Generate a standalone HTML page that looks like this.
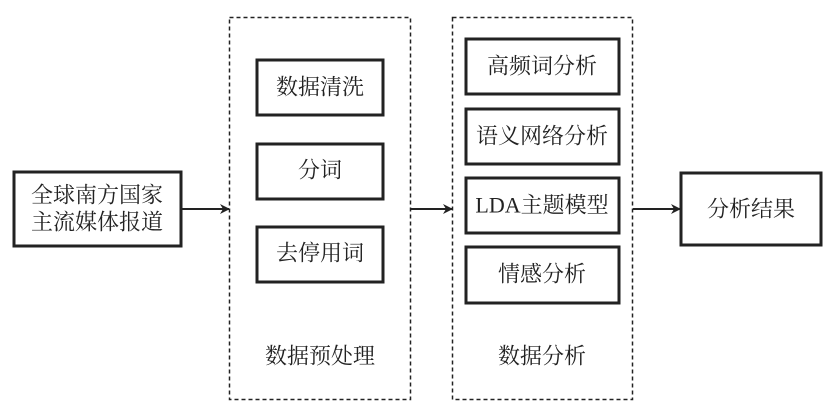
<!DOCTYPE html>
<html><head><meta charset="utf-8"><style>
html,body{margin:0;padding:0;background:#fff;}
svg{display:block;}
text{font-family:"Liberation Serif","Noto Serif CJK SC",serif;font-size:22px;fill:#222;text-anchor:middle;dominant-baseline:central;}
</style></head><body>
<svg width="825" height="405" viewBox="0 0 825 405">
<defs><marker id="a" markerWidth="10" markerHeight="10" refX="9" refY="5" orient="auto" markerUnits="userSpaceOnUse"><path d="M0,0 L10,5 L0,10 L3,5 Z" fill="#222"/></marker></defs>
<g fill="none" stroke="#222">
<rect x="14" y="172" width="167" height="74" stroke-width="3"/>
<rect x="229.5" y="17.5" width="181" height="382" stroke-width="1.5" stroke-dasharray="4,3"/>
<rect x="452.5" y="17.5" width="180" height="382" stroke-width="1.5" stroke-dasharray="4,3"/>
<rect x="257" y="60" width="126" height="55" stroke-width="3"/>
<rect x="257" y="144" width="126" height="55" stroke-width="3"/>
<rect x="257" y="227" width="126" height="55" stroke-width="3"/>
<rect x="466" y="39" width="153" height="55" stroke-width="3"/>
<rect x="466" y="109" width="153" height="55" stroke-width="3"/>
<rect x="466" y="178" width="153" height="55" stroke-width="3"/>
<rect x="466" y="247" width="153" height="56" stroke-width="3"/>
<rect x="681" y="173" width="140" height="72" stroke-width="3"/>
<line x1="181" y1="209" x2="229" y2="209" stroke-width="2" marker-end="url(#a)"/>
<line x1="411" y1="209" x2="452" y2="209" stroke-width="2" marker-end="url(#a)"/>
<line x1="633" y1="209" x2="680" y2="209" stroke-width="2" marker-end="url(#a)"/>
</g>
<text x="97" y="195">全球南方国家</text>
<text x="97" y="222">主流媒体报道</text>
<text x="320" y="87">数据清洗</text>
<text x="320" y="170">分词</text>
<text x="320" y="253">去停用词</text>
<text x="320" y="356">数据预处理</text>
<text x="542" y="66">高频词分析</text>
<text x="542" y="136">语义网络分析</text>
<text x="542" y="205">LDA主题模型</text>
<text x="542" y="274">情感分析</text>
<text x="542" y="356">数据分析</text>
<text x="751" y="209">分析结果</text>
</svg>
</body></html>
